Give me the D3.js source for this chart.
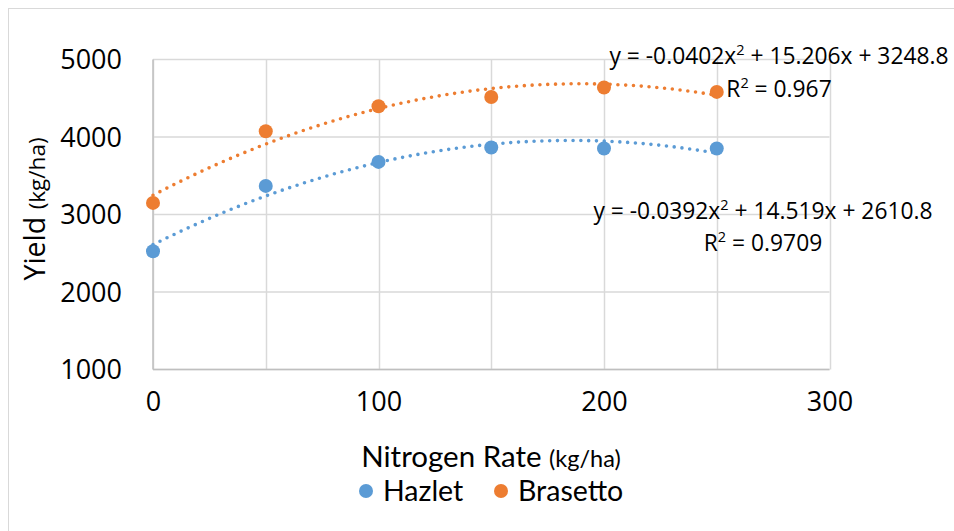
<!DOCTYPE html>
<html>
<head>
<meta charset="utf-8">
<script src="https://cdn.jsdelivr.net/npm/d3@7"></script>
<style>
  html, body { margin: 0; padding: 0; background: #fff; }
  svg { display: block; }
  text { font-family: "Open Sans", "Lato", sans-serif; fill: #000; }
</style>
</head>
<body>
<svg id="chart" width="954" height="531"></svg>
<script>
// ---- data ----
const nitrogenRates = [0, 50, 100, 150, 200, 250];
const hazletYield   = [2526, 3369, 3679, 3865, 3852, 3852];
const brasettoYield = [3150, 4075, 4397, 4517, 4639, 4582];
const seriesNames   = ["Hazlet", "Brasetto"];
const hazletFit     = [-0.0392, 14.519, 2610.8];   // a, b, c
const brasettoFit   = [-0.0402, 15.206, 3248.8];
const hazletEqText   = ["y = -0.0392x", " + 14.519x + 2610.8", "R", " = 0.9709"];
const brasettoEqText = ["y = -0.0402x", " + 15.206x + 3248.8", "R", " = 0.967"];
const xTicks = [0, 100, 200, 300];
const xGrid  = [0, 50, 100, 150, 200, 250, 300];
const yTicks = [1000, 2000, 3000, 4000, 5000];

const colors = { Hazlet: "#5B9BD5", Brasetto: "#ED7D31" };

const svg = d3.select("#chart");
// outer frame
svg.append("rect").attr("x", 8.5).attr("y", 8.5).attr("width", 960).attr("height", 540)
  .attr("fill", "none").attr("stroke", "#D9D9D9").attr("stroke-width", 1);

const x = d3.scaleLinear().domain([0, 300]).range([153, 829.5]);
const y = d3.scaleLinear().domain([1000, 5000]).range([369.5, 59.5]);

// gridlines
const g = svg.append("g");
g.selectAll("line.v").data(xGrid).join("line")
  .attr("x1", d => Math.round(x(d)) + 0.5).attr("x2", d => Math.round(x(d)) + 0.5)
  .attr("y1", y(5000)).attr("y2", y(1000))
  .attr("stroke", "#D9D9D9").attr("stroke-width", 1.5);
g.selectAll("line.h").data(yTicks).join("line")
  .attr("x1", x(0)).attr("x2", x(300))
  .attr("y1", d => y(d)).attr("y2", d => y(d))
  .attr("stroke", "#D9D9D9").attr("stroke-width", 1.5);
// axis lines (slightly darker)
g.append("line").attr("x1", x(0)).attr("x2", x(0)).attr("y1", y(5000)).attr("y2", y(1000))
  .attr("stroke", "#BFBFBF").attr("stroke-width", 1.5);
g.append("line").attr("x1", x(0)).attr("x2", x(300)).attr("y1", y(1000)).attr("y2", y(1000))
  .attr("stroke", "#BFBFBF").attr("stroke-width", 1.5);

// axes tick labels via d3 axes
const yAxis = d3.axisLeft(y).tickValues(yTicks).tickFormat(d3.format("d")).tickSize(0).tickPadding(0);
const yg = svg.append("g").attr("transform", "translate(122,0)").call(yAxis);
yg.select(".domain").remove();
yg.selectAll("text").attr("font-size", 27).attr("font-family", "Open Sans").attr("dy", "0.35em").attr("fill", "#000");

const xAxis = d3.axisBottom(x).tickValues(xTicks).tickFormat(d3.format("d")).tickSize(0).tickPadding(0);
const xg = svg.append("g").attr("transform", "translate(0,392)").call(xAxis);
xg.select(".domain").remove();
xg.selectAll("text").attr("font-size", 27).attr("font-family", "Open Sans").attr("dy", "0.71em").attr("fill", "#000");

// trendlines
const fitX = d3.range(0, 250.5, 1);
const series = [
  { name: "Hazlet", vals: hazletYield, fit: hazletFit },
  { name: "Brasetto", vals: brasettoYield, fit: brasettoFit }
];
const line = d3.line().x(d => x(d[0])).y(d => y(d[1])).curve(d3.curveLinear);
series.forEach(s => {
  const pts = fitX.map(v => [v, s.fit[0] * v * v + s.fit[1] * v + s.fit[2]]);
  svg.append("path").attr("d", line(pts)).attr("fill", "none")
    .attr("stroke", colors[s.name]).attr("stroke-width", 3.6)
    .attr("stroke-linecap", "round").attr("stroke-dasharray", "0 7.8");
});
// markers
series.forEach(s => {
  svg.append("g").selectAll("circle").data(nitrogenRates.map((r, i) => [r, s.vals[i]])).join("circle")
    .attr("cx", d => x(d[0])).attr("cy", d => y(d[1])).attr("r", 7)
    .attr("fill", colors[s.name]);
});

// equation labels
function eq(parts, cx, y1, y2) {
  const fs = 22.8, ss = 14.5, sh = 9;
  const t1 = svg.append("text").attr("x", cx).attr("y", y1).attr("text-anchor", "middle").attr("font-size", fs);
  t1.append("tspan").text(parts[0]);
  t1.append("tspan").attr("font-size", ss).attr("dy", -sh).text("2");
  t1.append("tspan").attr("dy", sh).text(parts[1]);
  const t2 = svg.append("text").attr("x", cx).attr("y", y2).attr("text-anchor", "middle").attr("font-size", fs);
  t2.append("tspan").text(parts[2]);
  t2.append("tspan").attr("font-size", ss).attr("dy", -sh).text("2");
  t2.append("tspan").attr("dy", sh).text(parts[3]);
}
eq(brasettoEqText, 779, 64, 97);
eq(hazletEqText, 763, 219, 251);

// axis titles
const yt = svg.append("text").attr("transform", "translate(45,209) rotate(-90)").attr("text-anchor", "middle");
yt.append("tspan").attr("font-size", 28.5).text("Yield ");
yt.append("tspan").attr("font-size", 22.5).text("(kg/ha)");
const xt = svg.append("text").attr("x", 491).attr("y", 467).attr("text-anchor", "middle")
  .style("font-family", "Lato");
xt.append("tspan").attr("font-size", 29.5).text("Nitrogen Rate ");
xt.append("tspan").attr("font-size", 23.5).text("(kg/ha)");

// legend
const legendX = [366, 501];
const lg = svg.append("g");
seriesNames.forEach((n, i) => {
  lg.append("circle").attr("cx", legendX[i]).attr("cy", 491).attr("r", 7).attr("fill", colors[n]);
  lg.append("text").attr("x", legendX[i] + 17).attr("y", 501).attr("font-size", 28.5)
    .style("font-family", "Lato").text(n);
});
</script>
</body>
</html>
